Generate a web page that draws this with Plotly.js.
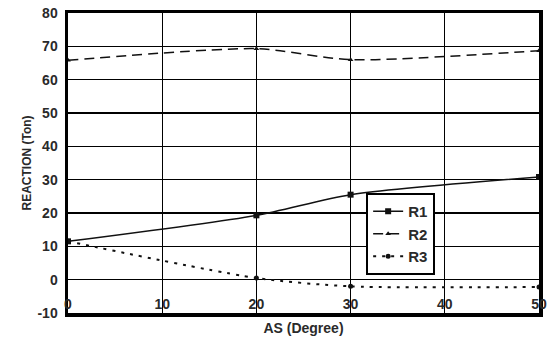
<!DOCTYPE html>
<html><head><meta charset="utf-8">
<script src="https://cdn.plot.ly/plotly-3.0.1.min.js"></script>
<style>html,body{margin:0;padding:0;background:#fff}#chart{width:547px;height:339px}</style>
</head><body><div id="chart"></div>
<script>
const angles = [0, 20, 30, 50];
const r1 = [11.5, 19.3, 25.5, 30.8];
const r2 = [65.8, 69.3, 66.0, 68.7];
const r3 = [11.5, 0.5, -2.0, -2.2];
const xTicks = [0, 10, 20, 30, 40, 50];
const yTicks = [-10, 0, 10, 20, 30, 40, 50, 60, 70, 80];

const fam = 'Liberation Sans, Arial, sans-serif';
const txt = '#2a2a2a';
const traces = [
  {x: angles, y: r1, name: 'R1', mode: 'lines+markers',
   line: {color: '#111', width: 1.5, shape: 'spline', smoothing: 0.7},
   marker: {symbol: 'square', size: 6, color: '#111'}},
  {x: angles, y: r2, name: 'R2', mode: 'lines+markers',
   line: {color: '#111', width: 1.5, dash: '10px,6px', shape: 'spline', smoothing: 0.7},
   marker: {symbol: 'triangle-up', size: 5, color: '#111'}},
  {x: angles, y: r3, name: 'R3', mode: 'lines+markers',
   line: {color: '#111', width: 2, dash: '3px,6px', shape: 'spline', smoothing: 0.7},
   marker: {symbol: 'circle', size: 5, color: '#111'}}
];
const layout = {
  width: 547, height: 339,
  margin: {l: 68, r: 8, t: 13, b: 26},
  paper_bgcolor: '#fff', plot_bgcolor: '#fff',
  font: {family: fam, color: txt, size: 13},
  showlegend: true,
  legend: {x: 0.633, y: 0.4, xanchor: 'left', yanchor: 'top',
    bgcolor: '#fff', bordercolor: '#000', borderwidth: 2,
    font: {family: fam, size: 15, color: txt, weight: 'bold'},
    tracegroupgap: 0, itemwidth: 30},
  xaxis: {range: [0, 50], tickvals: xTicks, ticktext: xTicks.map(String),
    ticks: '', ticklabelstandoff: -24,
    tickfont: {family: fam, size: 14, color: txt, weight: 'bold'},
    showgrid: true, gridcolor: '#000', gridwidth: 1.3, zeroline: false,
    showline: true, linecolor: '#000', linewidth: 3.5, mirror: true,
    title: {text: 'AS (Degree)', standoff: 13, font: {family: fam, size: 14, color: txt, weight: 'bold'}}},
  yaxis: {range: [-10, 80], tickvals: yTicks, ticktext: yTicks.map(String),
    ticks: '', ticklabelstandoff: 4,
    tickfont: {family: fam, size: 14, color: txt, weight: 'bold'},
    showgrid: true, gridcolor: '#000', gridwidth: 1.3, zeroline: false,
    showline: true, linecolor: '#000', linewidth: 3.5, mirror: true,
    title: {text: 'REACTION (Ton)', standoff: 4, font: {family: fam, size: 12, color: txt, weight: 'bold'}}}
};
Plotly.newPlot('chart', traces, layout, {displayModeBar: false, staticPlot: true});
</script></body></html>
